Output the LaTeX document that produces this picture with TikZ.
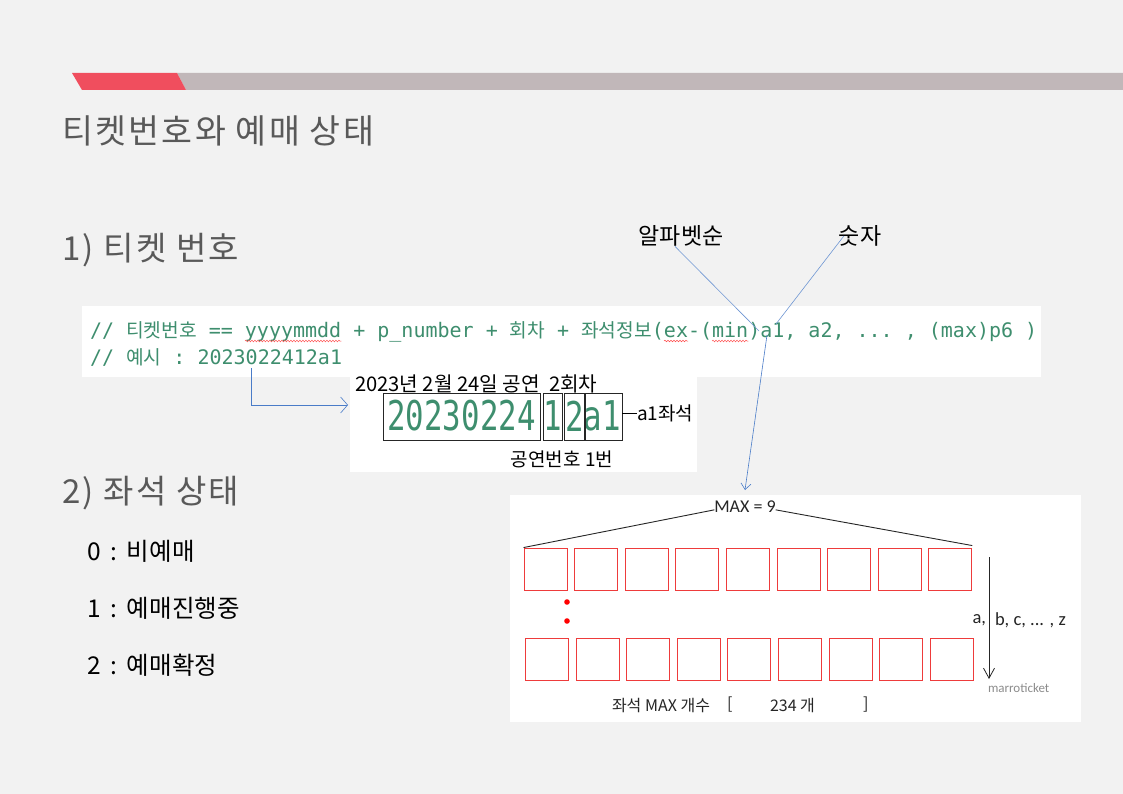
\documentclass[tikz,border=0pt]{standalone}
\usepackage{fontspec}
\usetikzlibrary{arrows.meta,decorations.pathmorphing}
\setmainfont{Noto Sans CJK KR}
\newfontfamily\ko{Noto Sans CJK KR}
\newfontfamily\kosp{Noto Sans CJK KR}[LetterSpace=7]
\newfontfamily\mono{DejaVu Sans Mono}
\newfontfamily\carl{Carlito}
\definecolor{bg}{HTML}{F2F2F2}
\definecolor{barred}{HTML}{F04E5E}
\definecolor{bargray}{HTML}{C1B7B9}
\definecolor{titlegray}{HTML}{595959}
\definecolor{codegreen}{HTML}{3E8E6E}
\definecolor{linkblue}{HTML}{4A7CC8}
\definecolor{seatred}{HTML}{EE3B3B}
\newcommand\fs[1]{\fontsize{#1}{#1}\selectfont}
\newcommand\msp{\kern.602em}
\newcommand\mf{\mono\fs{20}}
\newcommand\cs{\hspace{0.4em}:\hspace{0.4em}}
\tikzset{
  txt/.style={inner sep=0pt, outer sep=0pt},
  heading/.style={txt, anchor=west, text=titlegray, font=\kosp\fs{33}},
  item/.style={txt, anchor=west, text=black, font=\ko\fs{24.5}},
  code/.style={txt, anchor=base west, text=codegreen, font=\ko\fs{19.2}},
  wave/.style={draw=red!70, line width=0.5pt, decorate, decoration={snake, amplitude=0.8pt, segment length=3pt}},
  panel/.style={fill=white, draw=none},
  digit/.style={txt, text=codegreen, font=\mono\fs{41}},
  digbox/.style={draw=black!85, line width=0.8pt, inner sep=0pt},
  note/.style={txt, text=black, font=\ko\fs{19}},
  seat/.style={draw=seatred, line width=0.9pt, minimum width=43pt, minimum height=42pt, inner sep=0pt},
  small/.style={txt, text=black!85, font=\carl\fs{18}},
  bottom/.style={txt, anchor=west, text=black!85, font=\ko\fs{16}},
  link/.style={draw=linkblue, line width=0.6pt},
}
\begin{document}
\begin{tikzpicture}[x=1pt,y=-1pt]
\useasboundingbox (0,0) rectangle (1123,794);
\fill[bg] (0,0) rectangle (1123,794);
% header bar
\fill[bargray] (177,73) -- (1123,73) -- (1123,90) -- (186,90) -- cycle;
\fill[barred] (72,73) -- (177,73) -- (186,90) -- (82,90) -- cycle;
% headings
\node[heading, font=\kosp\fs{33.6}] (title) at (62,131) {티켓번호와 예매 상태};
\node[heading] (h1) at (62,250) {1) 티켓 번호};
\node[heading] (h2) at (62,493) {2) 좌석 상태};
\node[item] (s0) at (87,551) {0\cs 비예매};
\node[item] (s1) at (87,608) {1\cs 예매진행중};
\node[item] (s2) at (87,665) {2\cs 예매확정};
% code panel
\fill[panel] (82,306) rectangle (1041,377);
\node[code] (c1) at (90,337) {{\mf//\msp}티켓번호{\mf\msp==\msp}};
\node[code] (w1) at (c1.base east) {{\mf yyyymmdd}};
\node[code] (c2) at (w1.base east) {{\mf\msp+\msp p\_number\msp+\msp}회차{\mf\msp+\msp}좌석정보{\mf(}};
\node[code] (w2) at (c2.base east) {{\mf ex}};
\node[code] (c3) at (w2.base east) {{\mf-(}};
\node[code] (w3) at (c3.base east) {{\mf min}};
\node[code] (c4) at (w3.base east) {{\mf)a1,\msp a2,\msp...\msp,\msp(max)p6\msp)}};
\foreach \w in {w1,w2,w3}
  \draw[wave] ([yshift=-4pt]\w.base west) -- ([yshift=-4pt]\w.base east);
\node[code] (l2) at (90,364) {{\mf//\msp}예시{\mf\msp:\msp2023022412a1}};
% example panel
\fill[panel] (350,377) rectangle (697,472);
\node[note, anchor=west, font=\ko\fs{20.2}] (date) at (355,384) {2023년 2월 24일 공연\ \ 2회차};
\node[digit] (d1) at (461.5,416) {\scalebox{0.75}[1]{20230224}};
\node[digit] (d2) at (553,416) {\scalebox{0.75}[1]{1}};
\node[digit] (d3) at (575,416) {\scalebox{0.75}[1]{2}};
\node[digit] (d4) at (602,416) {\scalebox{0.75}[1]{a1}};
\draw[digbox] (383,393) rectangle (540,440);
\draw[digbox] (543,393) rectangle (562,440);
\draw[digbox] (564,393) rectangle (584,440);
\draw[digbox] (585,393) rectangle (622,440);
\coordinate (b4e) at (622,413);
\node[note, anchor=west] (seatlbl) at (637,413) {a1좌석};
\draw[black, line width=0.7pt] (b4e) -- (seatlbl.west);
\node[note] (pnum) at (562,459) {공연번호 1번};
% arrow from example line
\coordinate (exA) at (251,368);
\coordinate (exB) at (348,405);
\draw[link, -{Straight Barb[length=7pt,width=16pt,line width=0.6pt]}] (exA) |- (exB);
% labels top
\node[txt, font=\ko\fs{23}] (alpha) at (681,236) {알파벳순};
\node[txt, font=\ko\fs{23}] (num) at (860,236) {숫자};
\coordinate (aEnd) at (759,331);
\coordinate (nEnd) at (776,324);
\draw[link, draw=linkblue!80] ([xshift=-6pt]alpha.south) -- (aEnd);
\draw[link, draw=linkblue!80] ([xshift=5pt]num.west) -- (nEnd);
% seat panel
\fill[panel] (510,495) rectangle (1081,722);
\node[small] (max) at (745,507) {MAX = 9};
\coordinate (a1foot) at (767,335);
\coordinate (maxtop) at (745,490);
\draw[link, -{Straight Barb[length=6pt,width=10pt,line width=0.6pt]}] (a1foot) -- (maxtop);
\foreach \i in {0,...,8} {
  \node[seat] (t\i) at ({545.5+50.6*\i},569) {};
  \node[seat] (u\i) at ({547+50.6*\i},659.5) {};
}
\draw[black!85, line width=0.9pt] (t0.north west) -- ([yshift=3pt]max.south west);
\draw[black!85, line width=0.9pt] ([yshift=3pt]max.south east) -- ([yshift=2pt]t8.north east);
\fill[red] (567,602) circle (2.8);
\fill[red] (567,621) circle (2.8);
\coordinate (dA) at (989,557);
\coordinate (dB) at (989,679);
\draw[black!85, line width=0.9pt, -{Straight Barb[length=10pt,width=11pt,line width=0.8pt]}] (dA) -- (dB);
\node[small, anchor=east, font=\carl\fs{18.5}] (la) at (986,620) {a,};
\node[small, anchor=west, font=\carl\fs{18.5}] (lb) at (995,620) {b, c, ... , z};
\node[txt, anchor=west, text=black!45, font=\carl\fs{13}] (mark) at (988,688) {marroticket};
\node[bottom] (cnt) at (612,705) {좌석 MAX 개수};
\node[bottom] (cntl) at (727,705) {[};
\node[bottom] (cntv) at (770,705) {234 개};
\node[bottom] (cntr) at (863,705) {]};
\end{tikzpicture}
\end{document}
